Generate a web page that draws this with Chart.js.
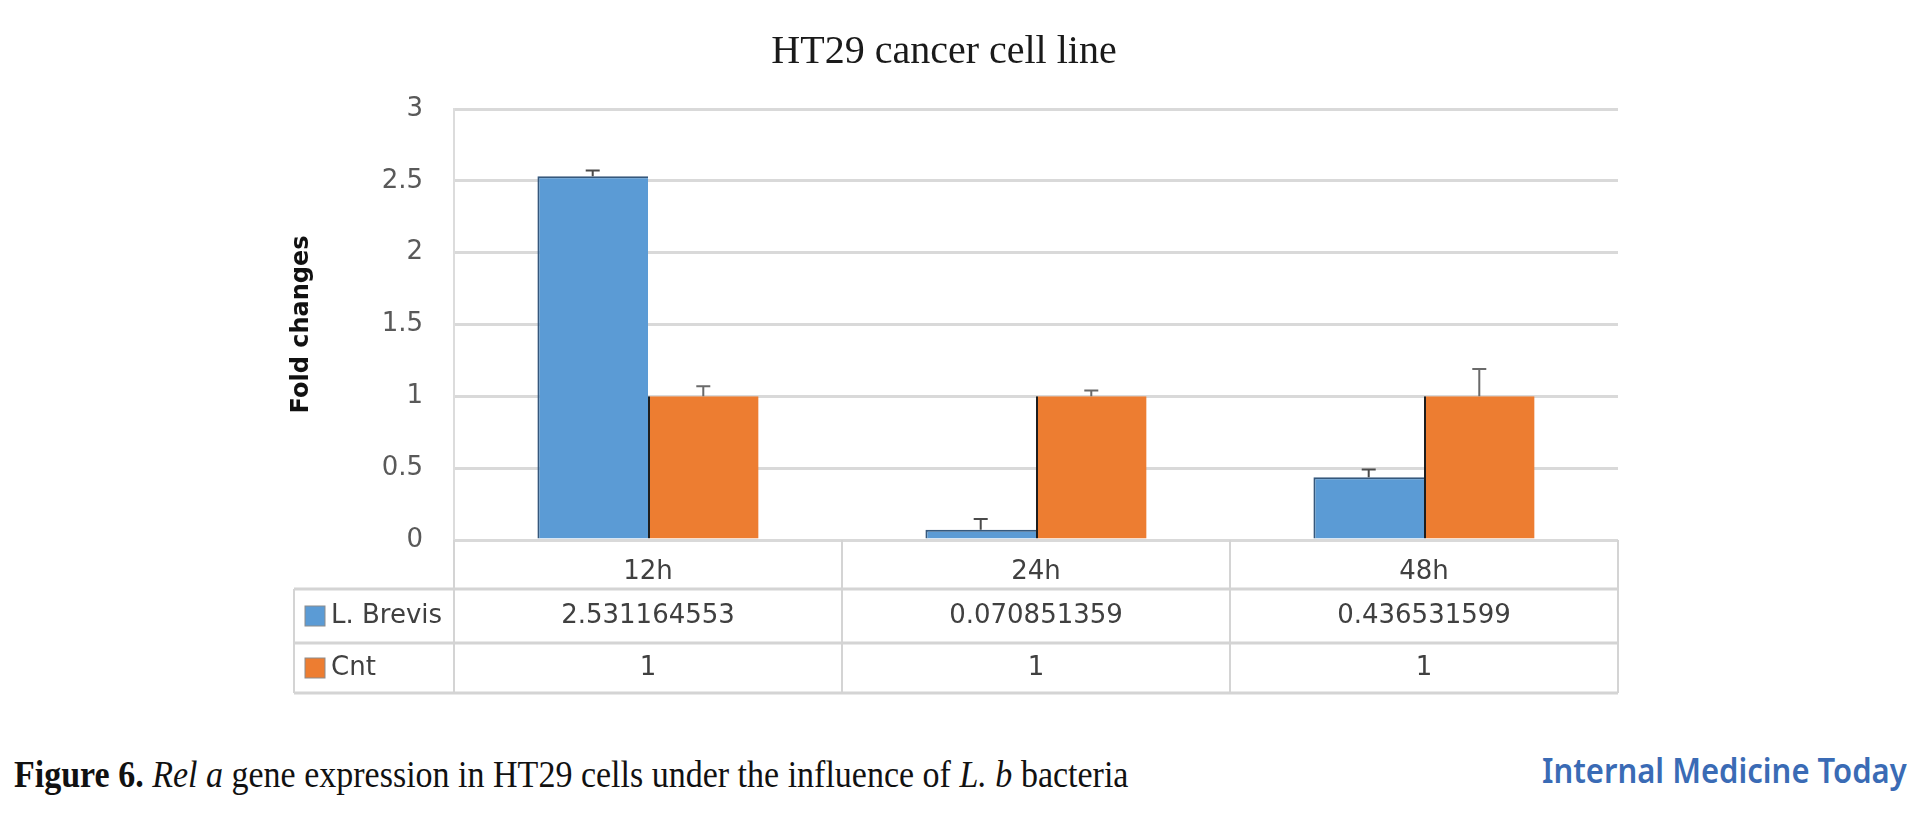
<!DOCTYPE html>
<html>
<head>
<meta charset="utf-8">
<script src="https://cdn.jsdelivr.net/npm/chart.js@4.4.1/dist/chart.umd.min.js"></script>
<style>
  html, body { margin: 0; padding: 0; background: #fff; overflow: hidden; }
  #wrap { position: absolute; left: 0; top: 0; width: 1921px; height: 720px; }
  #caption { position: absolute; left: 14px; top: 756px; font-family: 'Liberation Serif', 'Times New Roman', serif; font-size: 34px; line-height: 34px; color: #111; white-space: nowrap; transform: scaleY(1.12); transform-origin: 0 0; }
  #logo { position: absolute; left: 1542px; top: 752px; font-family: 'Noto Sans', sans-serif; font-weight: 600; font-size: 31px; line-height: 31px; color: #3a6bb5; white-space: nowrap; transform: scaleY(1.13); transform-origin: 0 0; }
</style>
</head>
<body>
<div id="wrap"><canvas id="c" width="1921" height="720"></canvas></div>
<div id="caption"><b>Figure 6.</b> <i>Rel a</i> gene expression in HT29 cells under the influence of <i>L. b</i> bacteria</div>
<div id="logo">Internal Medicine Today</div>
<script>
// ---- data ----
const categories = ['12h', '24h', '48h'];
const seriesNames = ['L. Brevis', 'Cnt'];
const brevisValues = [2.531164553, 0.070851359, 0.436531599];
const cntValues = [1, 1, 1];
const brevisErrors = [0.04, 0.075, 0.055];
const cntErrors = [0.07, 0.04, 0.19];
const yTicks = { min: 0, max: 3, step: 0.5 };

const BLUE = '#5B9BD5';
const ORANGE = '#ED7D31';
const FONT = "'DejaVu Sans', Verdana, sans-serif";

const errorBars = {
  id: 'errorBars',
  afterDatasetsDraw(chart) {
    const ctx = chart.ctx;
    const y = chart.scales.y;
    chart.data.datasets.forEach((ds, di) => {
      const meta = chart.getDatasetMeta(di);
      meta.data.forEach((bar, i) => {
        const top = y.getPixelForValue(ds.data[i] + ds.errors[i]);
        ctx.save();
        ctx.strokeStyle = ds.errorColor;
        ctx.lineWidth = 2;
        ctx.beginPath();
        ctx.moveTo(bar.x, bar.y);
        ctx.lineTo(bar.x, top);
        ctx.moveTo(bar.x - 7, top);
        ctx.lineTo(bar.x + 7, top);
        ctx.stroke();
        ctx.restore();
      });
    });
  }
};

const dataTable = {
  id: 'dataTable',
  afterDraw(chart) {
    const ctx = chart.ctx;
    const x = chart.scales.x, y = chart.scales.y;
    const top = y.bottom;
    const rows = [top + 49, top + 103, top + 153];
    const legendLeft = x.left - 160;
    const n = categories.length;
    ctx.save();
    ctx.strokeStyle = '#d4d4d4';
    ctx.lineWidth = 3;
    rows.forEach(r => {
      ctx.beginPath(); ctx.moveTo(legendLeft, r); ctx.lineTo(x.right, r); ctx.stroke();
    });
    ctx.lineWidth = 2;
    const bounds = [];
    for (let i = 0; i <= n; i++) bounds.push(x.getPixelForValue(i - 0.5));
    bounds.forEach(b => {
      ctx.beginPath(); ctx.moveTo(b, top); ctx.lineTo(b, rows[2]); ctx.stroke();
    });
    ctx.beginPath(); ctx.moveTo(legendLeft, rows[0]); ctx.lineTo(legendLeft, rows[2]); ctx.stroke();

    const rowCenters = [(rows[0] + rows[1]) / 2, (rows[1] + rows[2]) / 2];
    const sets = chart.data.datasets;
    ctx.font = '26px ' + FONT;
    ctx.textBaseline = 'middle';
    sets.forEach((ds, di) => {
      const cy = rowCenters[di];
      ctx.fillStyle = ds.backgroundColor;
      ctx.fillRect(legendLeft + 11, cy - 10, 20, 20);
      ctx.strokeStyle = '#8c8c8c';
      ctx.lineWidth = 1;
      ctx.strokeRect(legendLeft + 11, cy - 10, 20, 20);
      ctx.fillStyle = '#404040';
      ctx.textAlign = 'left';
      ctx.fillText(ds.label, legendLeft + 37, cy);
      ctx.textAlign = 'center';
      ds.data.forEach((v, i) => {
        ctx.fillText(String(v), x.getPixelForValue(i), cy);
      });
    });
    ctx.restore();
  }
};

new Chart(document.getElementById('c'), {
  type: 'bar',
  data: {
    labels: categories,
    datasets: [
      {
        label: seriesNames[0], data: brevisValues, errors: brevisErrors, errorColor: '#4a4a4a',
        backgroundColor: BLUE, borderColor: '#35587c',
        borderWidth: { top: 2, left: 2, right: 0, bottom: 0 }, borderSkipped: false,
        categoryPercentage: 0.57, barPercentage: 1.0
      },
      {
        label: seriesNames[1], data: cntValues, errors: cntErrors, errorColor: '#6a6a6a',
        backgroundColor: ORANGE, borderColor: '#1e1e1e',
        borderWidth: { top: 0, left: 2, right: 0, bottom: 0 }, borderSkipped: false,
        categoryPercentage: 0.57, barPercentage: 1.0
      }
    ]
  },
  options: {
    responsive: false,
    animation: false,
    devicePixelRatio: 1,
    layout: { padding: { top: 28, left: 270, right: 303, bottom: 27 } },
    plugins: {
      legend: { display: false },
      tooltip: { enabled: false },
      title: {
        display: true,
        text: 'HT29 cancer cell line',
        color: '#1a1a1a',
        font: { family: "'Liberation Serif', 'Times New Roman', serif", size: 40, weight: 'normal' },
        padding: { top: 0, bottom: 33 }
      }
    },
    scales: {
      x: {
        grid: { display: false },
        border: { display: false },
        ticks: { color: '#404040', font: { family: FONT, size: 26 }, padding: 9 },
        afterFit(scale) { scale.height = 153; }
      },
      y: {
        min: yTicks.min, max: yTicks.max,
        grid: { color: '#d9d9d9', lineWidth: 3, drawTicks: false },
        border: { display: true, color: '#dcdcdc', width: 2 },
        ticks: {
          stepSize: yTicks.step, color: '#595959', font: { family: FONT, size: 26 }, padding: 31,
          callback: (v) => String(Math.round(v * 100) / 100)
        },
        title: {
          display: true, text: 'Fold changes', color: '#111',
          font: { family: FONT, size: 24, weight: 'bold' },
          padding: { top: 17, bottom: 0 }
        },
        afterFit(scale) { scale.width = 184; }
      }
    }
  },
  plugins: [errorBars, dataTable]
});
</script>
</body>
</html>
